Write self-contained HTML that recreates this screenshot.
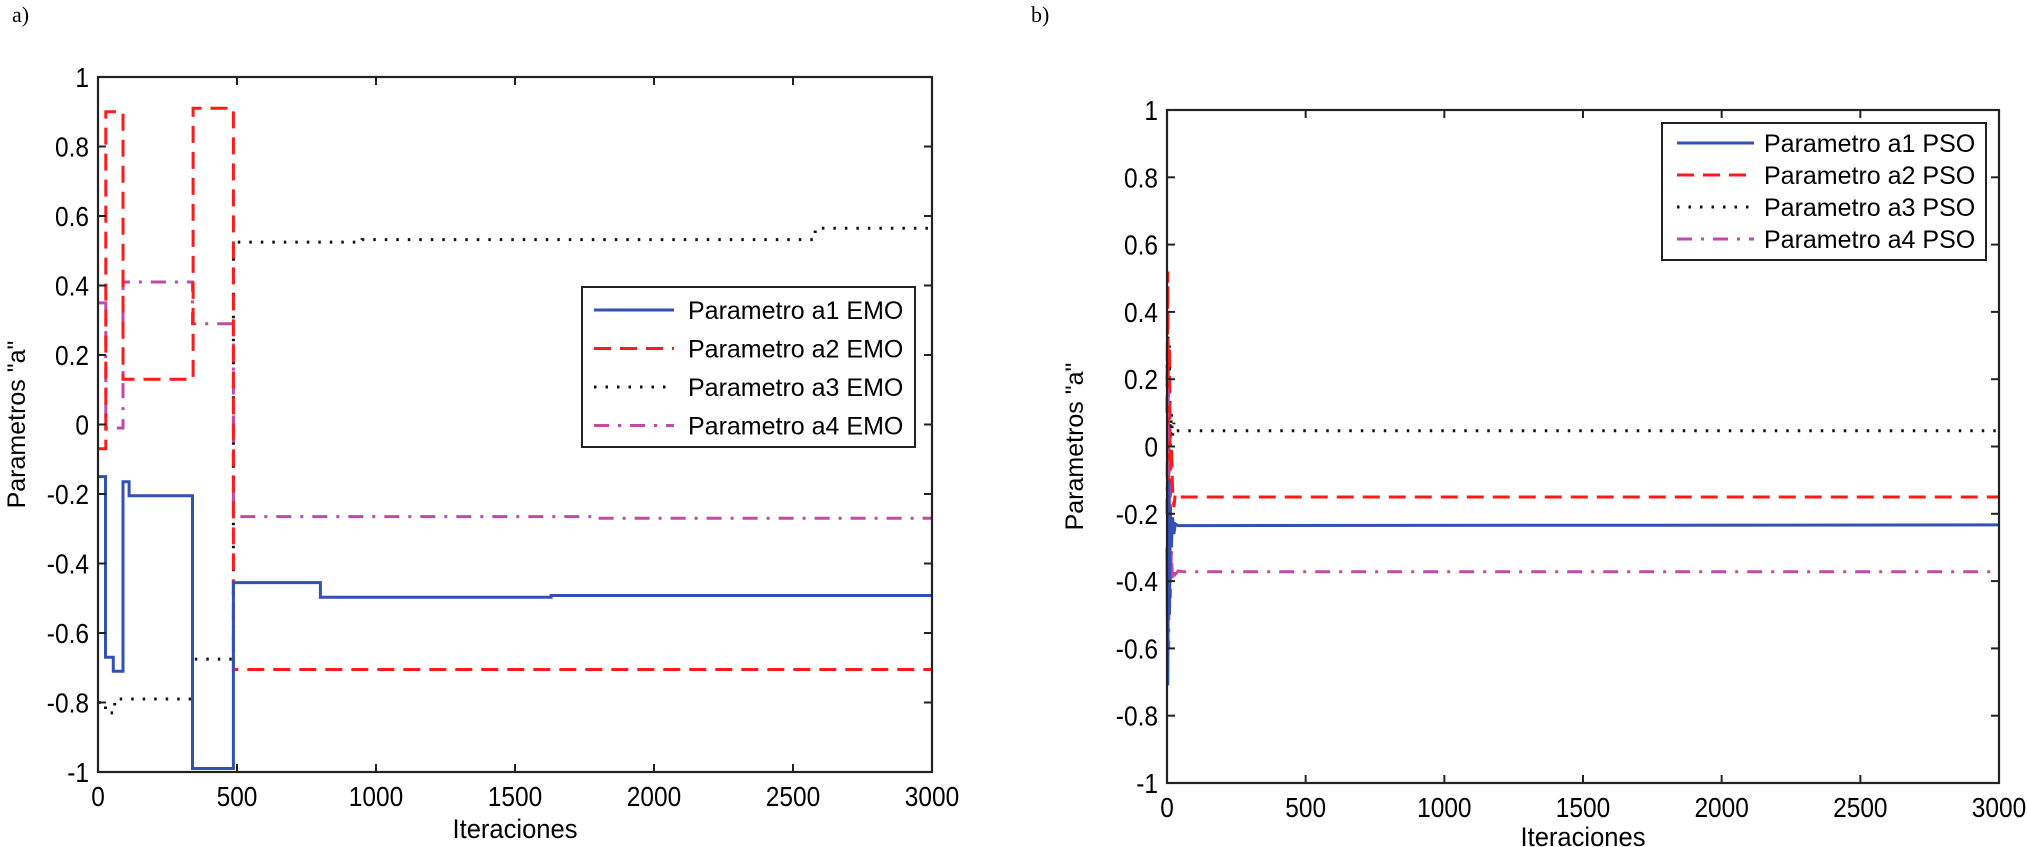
<!DOCTYPE html>
<html><head><meta charset="utf-8"><style>
html,body{margin:0;padding:0;background:#fff;}
svg{display:block;font-family:"Liberation Sans",Arial,sans-serif;}
</style></head><body>
<svg id="fig" width="2027" height="847" viewBox="0 0 2027 847" xmlns="http://www.w3.org/2000/svg">
<text x="12" y="22" font-family="Liberation Serif,serif" font-size="22">a)</text>
<text x="1031" y="22" font-family="Liberation Serif,serif" font-size="22">b)</text>
</svg>
<script>
// ---- Data (panel a: EMO) ----
const xTicks = [0,500,1000,1500,2000,2500,3000];
const yTicks = [-1,-0.8,-0.6,-0.4,-0.2,0,0.2,0.4,0.6,0.8,1];
const yTickLabels = ['-1','-0.8','-0.6','-0.4','-0.2','0','0.2','0.4','0.6','0.8','1'];
const emoA1Iter = [0,27,55,90,112,340,487,800,1630,3000];
const emoA1Val  = [-0.15,-0.67,-0.71,-0.165,-0.205,-0.99,-0.455,-0.497,-0.492];
const emoA2Iter = [0,28,90,342,487,3000];
const emoA2Val  = [-0.07,0.9,0.13,0.91,-0.705];
const emoA3Iter = [0,27,60,340,487,950,2580,3000];
const emoA3Val  = [-0.8,-0.83,-0.79,-0.675,0.525,0.532,0.565];
const emoA4Iter = [0,28,90,340,487,1800,3000];
const emoA4Val  = [0.35,-0.01,0.41,0.29,-0.265,-0.27];
// ---- Data (panel b: PSO), transient then steady ----
const psoIter  = [0,3,6,9,12,16,20,25,30,40,60,3000];
const psoA1Val = [-0.3,-0.71,-0.1,-0.5,-0.18,-0.3,-0.21,-0.26,-0.23,-0.235,-0.235,-0.233];
const psoA2Val = [0.1,0.52,-0.3,0.3,-0.2,0.0,-0.12,-0.18,-0.14,-0.15,-0.15,-0.15];
const psoA3Val = [0.2,0.4,-0.1,0.3,0.0,0.1,0.03,0.07,0.045,0.047,0.047,0.047];
const psoA4Val = [-0.2,0.2,-0.6,-0.1,-0.45,-0.3,-0.4,-0.36,-0.38,-0.37,-0.372,-0.372];

const NS='http://www.w3.org/2000/svg';
const svg=document.getElementById('fig');
function mk(tag,attrs,parent){const e=document.createElementNS(NS,tag);for(const k in attrs)e.setAttribute(k,attrs[k]);(parent||svg).appendChild(e);return e;}

const styles={
 a1:{stroke:'#3350b4',dash:''},
 a2:{stroke:'#ff1a1a',dash:'17 9'},
 a3:{stroke:'#111',dash:'2.5 9'},
 a4:{stroke:'#c04aa8',dash:'15 9 3 9'}
};

function panel(cfg){
 const g=mk('g',{});
 
 
 const L=cfg.l,R=cfg.r,T=cfg.t,B=cfg.b;
 const sx=v=>L+(v-0)/3000*(R-L);
 const sy=v=>B-(v+1)/2*(B-T);
 cfg.series.forEach(s=>{
  let d='';
  if(s.step){
   for(let i=0;i<s.v.length;i++){
    const x0=sx(s.x[i]),x1=sx(s.x[i+1]),y=sy(s.v[i]);
    d+=(i===0?'M':'L')+x0.toFixed(1)+' '+y.toFixed(1)+' L'+x1.toFixed(1)+' '+y.toFixed(1)+' ';
   }
  } else {
   s.v.forEach((v,i)=>{d+=(i===0?'M':'L')+sx(s.x[i]).toFixed(1)+' '+sy(v).toFixed(1)+' ';});
  }
  const st=styles[s.k];
  const p=mk('path',{d:d,fill:'none',stroke:st.stroke,'stroke-width':3},g);
  if(st.dash)p.setAttribute('stroke-dasharray',st.dash);
  
  
 });
 const box=mk('rect',{x:L,y:T,width:R-L,height:B-T,fill:'none',stroke:'#222','stroke-width':2.2},g);
 
 
 xTicks.forEach(v=>{
  const x=sx(v);
  mk('line',{x1:x,y1:B,x2:x,y2:B-8,stroke:'#222','stroke-width':2},g);
  mk('line',{x1:x,y1:T,x2:x,y2:T+8,stroke:'#222','stroke-width':2},g);
  const s=String(v);
  const t=mk('text',{x:x,y:B+34,'font-size':28,'text-anchor':'middle',textLength:s.length*13.6,lengthAdjust:'spacingAndGlyphs'},g);
  t.textContent=s;
  
  
 });
 yTicks.forEach((v,i)=>{
  const y=sy(v);
  mk('line',{x1:L,y1:y,x2:L+8,y2:y,stroke:'#222','stroke-width':2},g);
  mk('line',{x1:R,y1:y,x2:R-8,y2:y,stroke:'#222','stroke-width':2},g);
  const s=yTickLabels[i];
  let w=0;for(const c of s)w+=(c==='.'?6.8:c==='-'?8.2:13.6);
  const t=mk('text',{x:L-9,y:y+10,'font-size':28,'text-anchor':'end',textLength:w,lengthAdjust:'spacingAndGlyphs'},g);
  t.textContent=s;
  
  
 });
 const xl=mk('text',{x:(L+R)/2,y:cfg.xlY,'font-size':27,'text-anchor':'middle',textLength:125,lengthAdjust:'spacingAndGlyphs'},g);
 xl.textContent='Iteraciones';
 
 
 const yl=mk('text',{x:0,y:0,'font-size':25,'text-anchor':'middle',transform:`translate(${cfg.ylX},${(T+B)/2}) rotate(-90)`},g);
 yl.textContent=cfg.ylabel;
 
 
 const lg=cfg.legend;
 const lgG=mk('g',{},g);
 
 
 mk('rect',{x:lg.x,y:lg.y,width:lg.w,height:lg.h,fill:'#fff',stroke:'#222','stroke-width':2},lgG);
 lg.items.forEach((it,i)=>{
  const y=lg.y+lg.first+i*lg.step;
  const eg=mk('g',{},lgG);
  
  
  const st=styles[it.k];
  const ln=mk('line',{x1:lg.x+lg.s0,y1:y,x2:lg.x+lg.s1,y2:y,stroke:st.stroke,'stroke-width':3},eg);
  if(st.dash)ln.setAttribute('stroke-dasharray',st.dash);
  const t=mk('text',{x:lg.x+lg.tx,y:y+9,'font-size':25},eg);
  t.textContent=it.t;
 });
}

panel({name:'chart-emo',l:98,r:932,t:77,b:772,xlY:838,ylX:25,ylabel:'Parametros "a"',
 series:[
  {k:'a3',n:'series-a3-emo',step:true,x:emoA3Iter,v:emoA3Val},
  {k:'a4',n:'series-a4-emo',step:true,x:emoA4Iter,v:emoA4Val},
  {k:'a2',n:'series-a2-emo',step:true,x:emoA2Iter,v:emoA2Val},
  {k:'a1',n:'series-a1-emo',step:true,x:emoA1Iter,v:emoA1Val}
 ],
 legend:{x:582,y:287,w:333,h:160,first:23,step:38.5,s0:12,s1:92,tx:106,
  items:[{k:'a1',t:'Parametro a1 EMO'},{k:'a2',t:'Parametro a2 EMO'},{k:'a3',t:'Parametro a3 EMO'},{k:'a4',t:'Parametro a4 EMO'}]}
});

panel({name:'chart-pso',l:1167,r:1999,t:110,b:783,xlY:846,ylX:1083,ylabel:'Parametros  "a"',
 series:[
  {k:'a3',n:'series-a3-pso',step:false,x:psoIter,v:psoA3Val},
  {k:'a2',n:'series-a2-pso',step:false,x:psoIter,v:psoA2Val},
  {k:'a4',n:'series-a4-pso',step:false,x:psoIter,v:psoA4Val},
  {k:'a1',n:'series-a1-pso',step:false,x:psoIter,v:psoA1Val}
 ],
 legend:{x:1662,y:123,w:324,h:137,first:20,step:32,s0:15,s1:92,tx:102,
  items:[{k:'a1',t:'Parametro a1 PSO'},{k:'a2',t:'Parametro a2 PSO'},{k:'a3',t:'Parametro a3 PSO'},{k:'a4',t:'Parametro a4 PSO'}]}
});
</script>
</body></html>
